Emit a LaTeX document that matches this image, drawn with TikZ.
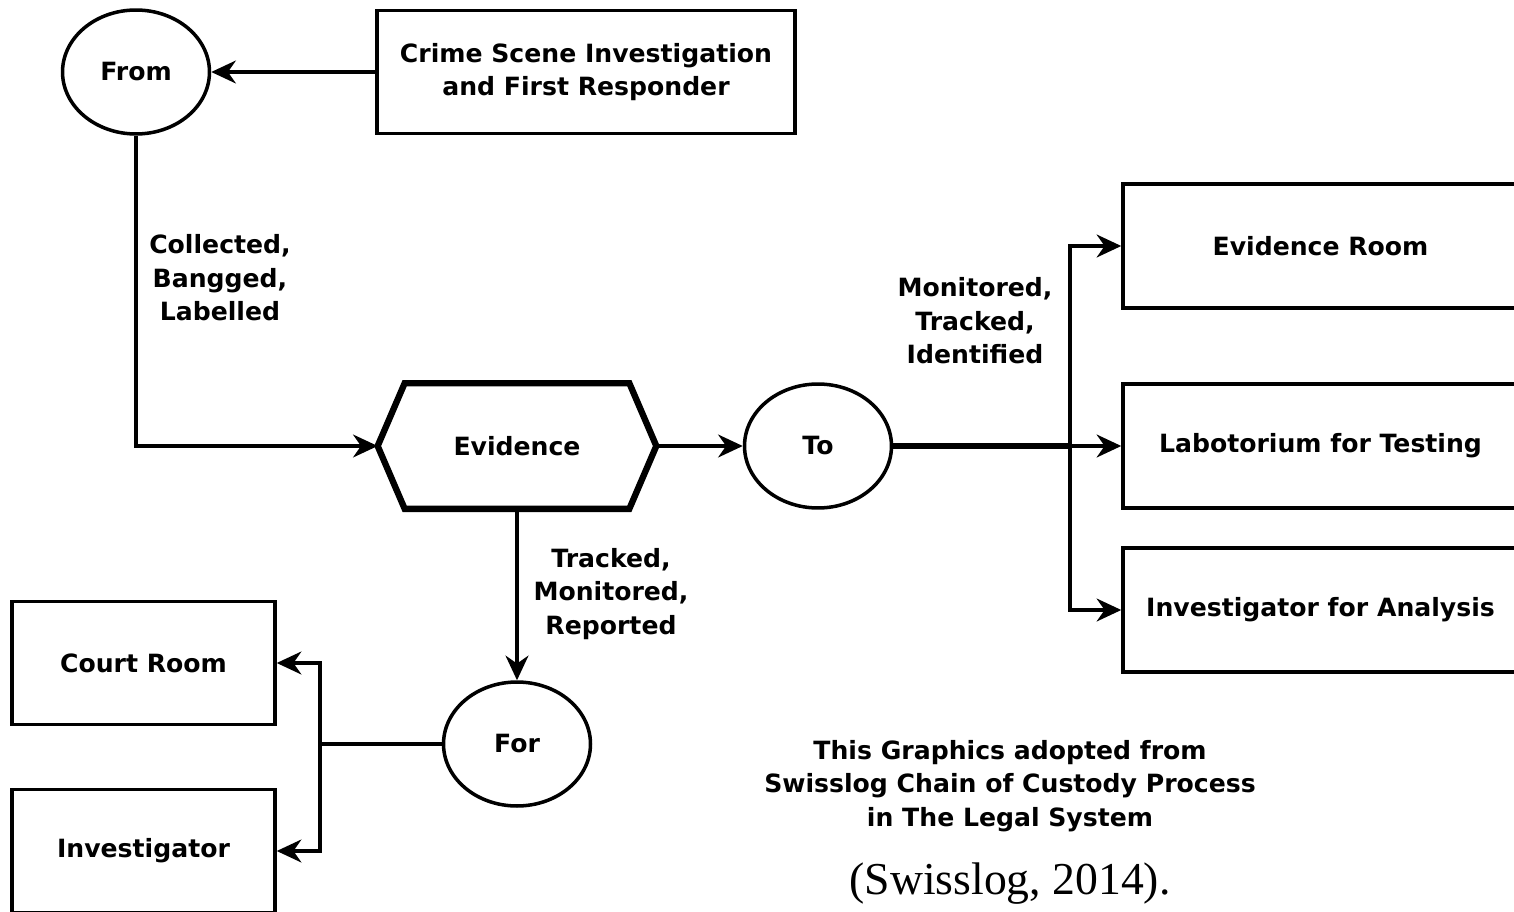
\documentclass[tikz,border=0pt]{standalone}
\usepackage{fontspec}
\setmainfont{DejaVu Sans}
\newfontfamily\citefont{Liberation Serif}
\usetikzlibrary{arrows.meta,shapes.geometric}

\tikzset{
  lbl/.style={font=\fontsize{14.3}{19}\selectfont\bfseries, text=black, align=center, inner sep=0pt},
  box/.style={draw, line width=2pt, rectangle, inner sep=0pt, lbl},
  oval/.style={draw, line width=2pt, ellipse, inner sep=0pt, lbl, minimum width=2.94cm, minimum height=2.48cm},
  link/.style={line width=2pt},
  arr/.style={link, -{Stealth[length=14pt, width=13pt, inset=4.5pt]}},
  trunk/.style={line width=3pt},
  hexline/.style={line width=3.6pt, line join=miter}
}

\begin{document}
\begin{tikzpicture}[x=0.02cm, y=-0.02cm]
  \useasboundingbox (0,0) rectangle (1514,912);
  \clip (0,0) rectangle (1514,912);

  % source and the first gathering point
  \node[box, minimum width=8.36cm, minimum height=2.46cm] (crime) at (586,72)
    {Crime Scene Investigation\\and First Responder};
  \node[oval] (from) at (136,72) {From};

  % the evidence itself, drawn as a hexagon round its label
  \node[lbl, minimum width=5.56cm, minimum height=2.5cm] (ev) at (517,446) {Evidence};
  \draw[hexline] (ev.west) -- ([xshift=0.54cm]ev.north west) -- ([xshift=-0.54cm]ev.north east)
    -- (ev.east) -- ([xshift=-0.54cm]ev.south east) -- ([xshift=0.54cm]ev.south west) -- cycle;

  \node[oval] (to) at (818,446) {To};
  \node[oval] (for) at (517,744) {For};

  % destinations on the right
  \node[box, minimum width=7.9cm, minimum height=2.48cm] (er) at (1320.5,246) {Evidence Room};
  \node[box, minimum width=7.9cm, minimum height=2.48cm] (lab) at (1320.5,446) {Labotorium for Testing};
  \node[box, minimum width=7.9cm, minimum height=2.48cm] (inva) at (1320.5,610) {Investigator for Analysis};

  % destinations on the left
  \node[box, minimum width=5.26cm, minimum height=2.46cm] (court) at (143.5,663) {Court Room};
  \node[box, minimum width=5.26cm, minimum height=2.46cm] (inv) at (143.5,851) {Investigator};

  % branching points
  \coordinate (jR) at (1070,446);
  \coordinate (jL) at (320,744);

  % connectors
  \draw[arr] (crime.west) -- (from.east);
  \draw[arr] (from.south) |- (ev.west);
  \draw[arr] (ev.east) -- (to.west);
  \draw[trunk] (to.east) -- (jR);
  \draw[arr] (jR) -- (lab.west);
  \draw[arr] (jR) |- (er.west);
  \draw[arr] (jR) |- (inva.west);
  \draw[arr] (ev.south) -- (for.north);
  \draw[link] (for.west) -- (jL);
  \draw[arr] (jL) |- (court.east);
  \draw[arr] (jL) |- (inv.east);

  % connector captions
  \node[lbl] (l1) at (220,278) {Collected,\\Bangged,\\Labelled};
  \node[lbl] (l2) at (975,321) {Monitored,\\Tracked,\\Identified};
  \node[lbl] (l3) at (611,594) {Tracked,\\Monitored,\\Reported};

  % source note
  \node[lbl] (note) at (1010,786) {This Graphics adopted from\\Swisslog Chain of Custody Process\\in The Legal System};
  \node[font=\citefont\fontsize{26}{30}\selectfont, inner sep=0pt] (cite) at (1010,884) {(Swisslog, 2014).};
\end{tikzpicture}
\end{document}
